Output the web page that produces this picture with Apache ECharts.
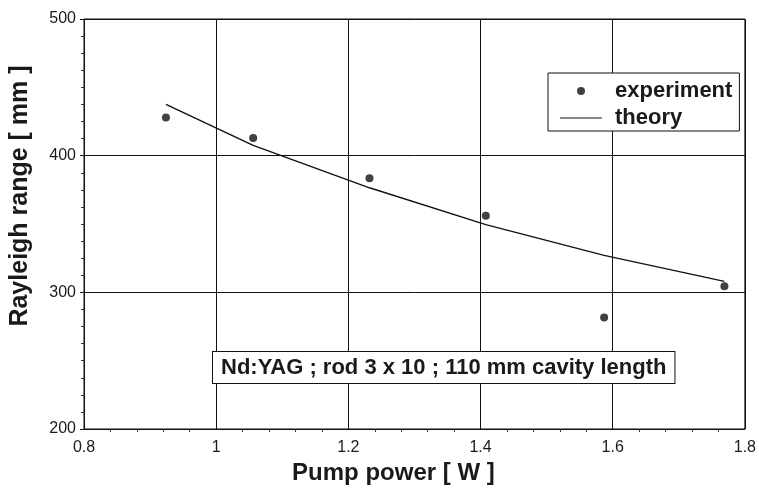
<!DOCTYPE html>
<html>
<head>
<meta charset="utf-8">
<script src="https://cdn.jsdelivr.net/npm/echarts@6/dist/echarts.min.js"></script>
<style>html,body{margin:0;padding:0;background:#fff}#c{width:759px;height:495px}</style>
</head>
<body>
<div id="c"></div>
<script>
// Data
var expPower = [0.924, 1.056, 1.232, 1.408, 1.587, 1.769];
var expRange = [428, 413, 383.5, 356, 281.5, 304.5];
var theoryPower = [0.924, 1.056, 1.232, 1.408, 1.587, 1.769];
var theoryRange = [437.5, 407.5, 376.5, 349.5, 327, 308];
var xTicks = [0.8, 1, 1.2, 1.4, 1.6, 1.8];
var yTicks = [200, 300, 400, 500];
var noteText = 'Nd:YAG ; rod 3 x 10 ; 110 mm cavity length';

var font = 'Liberation Sans, Arial, sans-serif';
var chart = echarts.init(document.getElementById('c'));
chart.setOption({
  animation: false,
  backgroundColor: '#fff',
  textStyle: { fontFamily: font },
  grid: { left: 82, top: 19, right: 10, bottom: 66, show: true, borderColor: '#111', borderWidth: 1 },
  xAxis: {
    type: 'value', min: xTicks[0], max: xTicks[xTicks.length - 1], interval: 0.2,
    name: 'Pump power [ W ]', nameLocation: 'middle', nameGap: 29,
    nameTextStyle: { fontSize: 24, fontWeight: 'bold', color: '#1a1a1a', fontFamily: font, padding: [0, 42, 0, 0] },
    axisLine: { lineStyle: { color: '#111' } },
    axisTick: { show: false },
    minorTick: { show: true, splitNumber: 5, length: 3, lineStyle: { color: '#333' } },
    axisLabel: { fontSize: 16, color: '#1a1a1a', margin: 11, fontFamily: font,
      formatter: function (v) { return String(Math.round(v * 10) / 10); } },
    splitLine: { show: true, lineStyle: { color: '#111', width: 1 } }
  },
  yAxis: {
    type: 'value', min: yTicks[0], max: yTicks[yTicks.length - 1], interval: 100,
    name: 'Rayleigh range [ mm ]', nameLocation: 'middle', nameGap: 51,
    nameTextStyle: { fontSize: 25, fontWeight: 'bold', color: '#1a1a1a', fontFamily: font, padding: [0, 0, 0, 56] },
    axisLine: { lineStyle: { color: '#111' } },
    axisTick: { show: true, inside: false, length: 4, lineStyle: { color: '#111' } },
    minorTick: { show: true, splitNumber: 8, length: 3, lineStyle: { color: '#333' } },
    axisLabel: { fontSize: 16, color: '#1a1a1a', margin: 8, fontFamily: font },
    splitLine: { show: true, lineStyle: { color: '#111', width: 1 } }
  },
  legend: {
    orient: 'vertical', left: 548, top: 73,
    backgroundColor: '#fff', borderColor: '#111', borderWidth: 1,
    padding: [7, 7, 2, 12], itemGap: 5, itemWidth: 42, itemHeight: 8,
    textStyle: { fontSize: 22, fontWeight: 'bold', color: '#1a1a1a', fontFamily: font, padding: [0, 0, 0, 8] },
    data: [
      { name: 'experiment', icon: 'circle' },
      { name: 'theory', icon: 'path://M0,0 L42,0 L42,1 L0,1 Z' }
    ]
  },
  graphic: [{
    type: 'text', left: 212, top: 351, z: 100,
    style: {
      text: noteText, font: 'bold 22px ' + font, fill: '#1a1a1a',
      backgroundColor: '#fff', borderColor: '#111', borderWidth: 1,
      padding: [5, 8, 4, 8]
    }
  }],
  series: [
    {
      name: 'theory', type: 'line', smooth: false, showSymbol: false, symbol: 'none',
      data: theoryPower.map(function (x, i) { return [x, theoryRange[i]]; }),
      lineStyle: { color: '#111', width: 1.4 }, itemStyle: { color: '#111' }
    },
    {
      name: 'experiment', type: 'scatter', symbol: 'circle', symbolSize: 8,
      data: expPower.map(function (x, i) { return [x, expRange[i]]; }),
      itemStyle: { color: '#111' }
    }
  ]
});
</script>
</body>
</html>
